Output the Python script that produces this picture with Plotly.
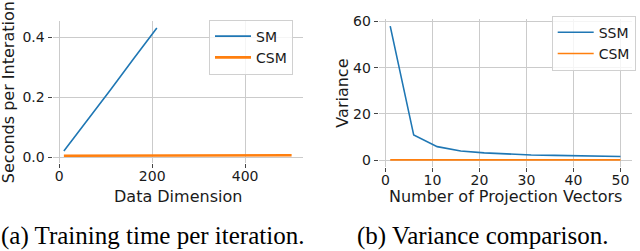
import plotly.graph_objects as go

# ---- data ----
dim_sm = [10, 60, 110, 160, 210]
sec_sm = [0.020, 0.121, 0.224, 0.328, 0.431]
dim_csm = [10, 60, 110, 160, 210, 260, 310, 360, 410, 460, 500]
sec_csm = [0.004, 0.004, 0.004, 0.004, 0.004, 0.004, 0.0045, 0.005, 0.005, 0.006, 0.006]

proj = [1, 6, 11, 16, 21, 26, 31, 36, 41, 46, 50]
var_ssm = [58.0, 10.8, 5.8, 3.9, 3.1, 2.6, 2.2, 2.0, 1.8, 1.6, 1.5]
var_csm = [0.05, 0.05, 0.05, 0.05, 0.05, 0.05, 0.05, 0.05, 0.05, 0.05, 0.05]

xticks_a = [0, 200, 400]
yticks_a = [0.0, 0.2, 0.4]
xticks_b = [0, 10, 20, 30, 40, 50]
yticks_b = [0, 20, 40, 60]

BLUE = "#1f77b4"
ORANGE = "#ff7f0e"
W, H = 640, 251

def px(x):
    return x / W

def py(y):
    return 1 - y / H

fig = go.Figure()
fig.add_trace(go.Scatter(x=dim_sm, y=sec_sm, mode="lines", name="SM",
                         line=dict(color=BLUE, width=1.6), xaxis="x", yaxis="y",
                         legend="legend", legendgroup="a1"))
fig.add_trace(go.Scatter(x=dim_csm, y=sec_csm, mode="lines", name="CSM",
                         line=dict(color=ORANGE, width=2.6), xaxis="x", yaxis="y",
                         legend="legend", legendgroup="a2"))
fig.add_trace(go.Scatter(x=proj, y=var_ssm, mode="lines", name="SSM",
                         line=dict(color=BLUE, width=1.6), xaxis="x2", yaxis="y2",
                         legend="legend2", legendgroup="b1"))
fig.add_trace(go.Scatter(x=proj, y=var_csm, mode="lines", name="CSM",
                         line=dict(color=ORANGE, width=1.6), xaxis="x2", yaxis="y2",
                         legend="legend2", legendgroup="b2"))

TICKFONT = dict(family="DejaVu Sans", size=14, color="#1a1a1a")
common = dict(showgrid=True, gridcolor="#cbcbcb", gridwidth=1, zeroline=False,
              showline=False, ticks="outside", ticklen=4, tickwidth=1,
              tickcolor="#444", tickfont=TICKFONT)
xcommon = dict(common, ticklabelstandoff=-4)

LEGFONT = dict(family="DejaVu Sans", size=14, color="#1a1a1a")
fig.update_layout(
    width=W, height=H,
    margin=dict(l=0, r=0, t=0, b=0),
    paper_bgcolor="white", plot_bgcolor="white",
    xaxis=dict(domain=[px(52.5), px(303)], range=[-14.5, 524.5],
               tickvals=xticks_a, ticktext=[str(v) for v in xticks_a], anchor="y", **xcommon),
    yaxis=dict(domain=[py(162), py(16)], range=[-0.0195, 0.4525],
               tickvals=yticks_a, ticktext=["%.1f" % v for v in yticks_a], anchor="x", **common),
    xaxis2=dict(domain=[px(378.7), px(632)], range=[-1.45, 52.45],
                tickvals=xticks_b, ticktext=[str(v) for v in xticks_b], anchor="y2", **xcommon),
    yaxis2=dict(domain=[py(166), py(13.8)], range=[-2.9, 60.9],
                tickvals=yticks_b, ticktext=[str(v) for v in yticks_b], anchor="x2", **common),
    legend=dict(x=px(209), y=py(14), xanchor="left", yanchor="top",
                bgcolor="rgba(255,255,255,0.8)", bordercolor="#d0d0d0", borderwidth=1,
                font=LEGFONT, tracegroupgap=0, itemwidth=36),
    legend2=dict(x=px(551.7), y=py(10), xanchor="left", yanchor="top",
                 bgcolor="rgba(255,255,255,0.8)", bordercolor="#d0d0d0", borderwidth=1,
                 font=LEGFONT, tracegroupgap=0, itemwidth=36),
    showlegend=True,
)

TITLEFONT = dict(family="DejaVu Sans", size=16, color="#1a1a1a")
CAPFONT = dict(family="Liberation Serif", size=25, color="black")
annos = [
    dict(text="Data Dimension", x=px(177.7), y=py(196.5), font=TITLEFONT),
    dict(text="Number of Projection Vectors", x=px(505), y=py(196.5), font=TITLEFONT),
    dict(text="Seconds per Interation", x=px(8.5), y=py(89.5), textangle=-90, font=TITLEFONT),
    dict(text="Variance", x=px(342.5), y=py(90), textangle=-90, font=TITLEFONT),
    dict(text="(a) Training time per iteration.", x=px(152.5), y=py(238), font=CAPFONT),
    dict(text="(b) Variance comparison.", x=px(483), y=py(238), font=CAPFONT),
]
for a in annos:
    fig.add_annotation(xref="paper", yref="paper", showarrow=False,
                       xanchor="center", yanchor="middle", **a)

fig.write_html("out.html", config={"displayModeBar": False},
               post_script="document.body.style.margin='0';document.body.style.overflow='hidden';")
